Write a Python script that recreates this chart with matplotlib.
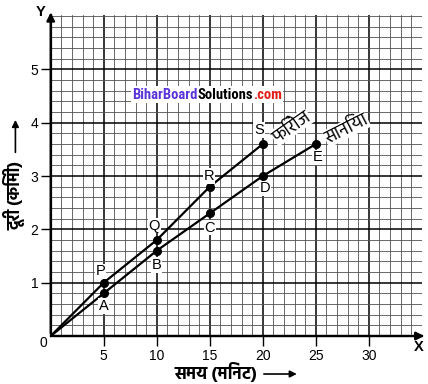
import numpy as np
import matplotlib
matplotlib.use('Agg')
import matplotlib.pyplot as plt
from matplotlib.offsetbox import TextArea, HPacker, AnnotationBbox

# ---------------------
# DATA
# ---------------------
# Firoz: points P, Q, R, S
firoz_t = [0, 5, 10, 15, 20]
firoz_d = [0, 1.0, 1.8, 2.8, 3.6]
firoz_pts = ['P', 'Q', 'R', 'S']

# Sania: points A, B, C, D, E
sania_t = [0, 5, 10, 15, 20, 25]
sania_d = [0, 0.8, 1.6, 2.3, 3.0, 3.6]
sania_pts = ['A', 'B', 'C', 'D', 'E']

x_ticks = [5, 10, 15, 20, 25, 30]
y_ticks = [1, 2, 3, 4, 5]

firoz_name = 'फिरोज'
sania_name = 'सानिया'
x_title = 'समय (मिनट)'
y_title = 'दूरी (किमी)'

hindi_font = ['Hind', 'Mukta', 'FreeSans', 'DejaVu Sans']
latin_font = ['Liberation Sans', 'DejaVu Sans']

# ---------------------
# FIGURE
# ---------------------
fig = plt.figure(figsize=(4.28, 3.84), dpi=100)
ax = fig.add_axes([0.1185, 0.125, 0.867, 0.836])
ax.set_xlim(0, 35)
ax.set_ylim(0, 6.02)

# graph paper grid
ax.set_xticks(x_ticks)
ax.set_yticks(y_ticks)
ax.set_xticks(np.arange(0, 36, 1), minor=True)
ax.set_yticks(np.arange(0, 6.01, 0.2), minor=True)
ax.grid(which='major', color='black', lw=1.1)
ax.grid(which='minor', color='#505050', lw=0.6)
ax.set_axisbelow(True)

ax.tick_params(which='minor', length=0)
ax.tick_params(which='major', length=7, width=1.0, direction='out', pad=2, labelsize=10)
for lab in ax.get_xticklabels() + ax.get_yticklabels():
    lab.set_family(latin_font)

for side in ['top', 'right']:
    ax.spines[side].set_visible(False)
for side in ['left', 'bottom']:
    ax.spines[side].set_linewidth(1.6)

# axis arrows
ax.annotate('', xy=(35.5, 0), xytext=(0, 0), annotation_clip=False,
            arrowprops=dict(arrowstyle='-|>', lw=1.6, color='black', mutation_scale=12))
ax.annotate('', xy=(0, 6.12), xytext=(0, 0), annotation_clip=False,
            arrowprops=dict(arrowstyle='-|>', lw=1.6, color='black', mutation_scale=12))
ax.text(34.7, -0.21, 'X', ha='center', va='center', fontsize=10.5, fontweight='bold', family=latin_font)
ax.text(-1.0, 6.07, 'Y', ha='center', va='center', fontsize=10.5, fontweight='bold', family=latin_font,
        clip_on=False)
ax.text(-0.73, -0.13, '0', ha='center', va='center', fontsize=10, family=latin_font)

# lines and points
ax.plot(firoz_t, firoz_d, color='black', lw=1.6, zorder=3)
ax.plot(sania_t, sania_d, color='black', lw=1.6, zorder=3)
ax.plot(firoz_t[1:], firoz_d[1:], 'o', color='black', ms=5.5, zorder=4)
ax.plot(sania_t[1:], sania_d[1:], 'o', color='black', ms=5.5, zorder=4)

# point letters (Firoz above, Sania below)
firoz_off = [(-0.3, 0.21), (-0.25, 0.27), (-0.07, 0.2), (-0.35, 0.26)]
for t, d, name, (dx, dy) in zip(firoz_t[1:], firoz_d[1:], firoz_pts, firoz_off):
    ax.text(t + dx, d + dy, name, ha='center', va='center', fontsize=10.5, family=latin_font,
            bbox=dict(facecolor='white', edgecolor='none', pad=0.5), zorder=5)
sania_off = [(0, -0.24), (0, -0.27), (0, -0.27), (0.2, -0.23), (0.2, -0.25)]
for t, d, name, (dx, dy) in zip(sania_t[1:], sania_d[1:], sania_pts, sania_off):
    ax.text(t + dx, d + dy, name, ha='center', va='center', fontsize=10.5, family=latin_font,
            bbox=dict(facecolor='white', edgecolor='none', pad=0.5), zorder=5)

# names along the lines
ax.text(22.7, 3.92, firoz_name, rotation=35, ha='center', va='center', fontsize=13,
        family=hindi_font, bbox=dict(facecolor='white', edgecolor='none', pad=0.3), zorder=5)
ax.text(27.9, 3.88, sania_name, rotation=27, ha='center', va='center', fontsize=13,
        family=hindi_font, bbox=dict(facecolor='white', edgecolor='none', pad=0.3), zorder=5)

# axis titles with arrows
fig.text(0.505, 0.031, x_title, ha='center', va='center', fontsize=12.5, fontweight='bold',
         family=hindi_font)
fig.patches.append(matplotlib.patches.FancyArrowPatch(
    (0.61, 0.026), (0.70, 0.026), transform=fig.transFigure, arrowstyle='-|>',
    mutation_scale=10, lw=1.2, color='black'))
fig.text(0.035, 0.49, y_title, ha='center', va='center', rotation=90, fontsize=12,
         fontweight='bold', family=hindi_font)
fig.patches.append(matplotlib.patches.FancyArrowPatch(
    (0.036, 0.596), (0.036, 0.695), transform=fig.transFigure, arrowstyle='-|>',
    mutation_scale=10, lw=1.2, color='black'))

# watermark
wm_font = ['Roboto Condensed', 'Liberation Sans Narrow', 'DejaVu Sans']
parts = [('BiharBoard', '#5b35d8'), ('Solutions', 'black'), ('.com', '#e0201b')]
boxes = [TextArea(s, textprops=dict(color=c, fontsize=10.5, fontweight='bold', family=wm_font))
         for s, c in parts]
pack = HPacker(children=boxes, align='baseline', pad=0, sep=0)
ab = AnnotationBbox(pack, (0.484, 0.753), xycoords='figure fraction', frameon=True,
                    bboxprops=dict(facecolor='white', edgecolor='none'), pad=0.1, zorder=6)
ax.add_artist(ab)

fig.savefig('out.png', dpi=100)
